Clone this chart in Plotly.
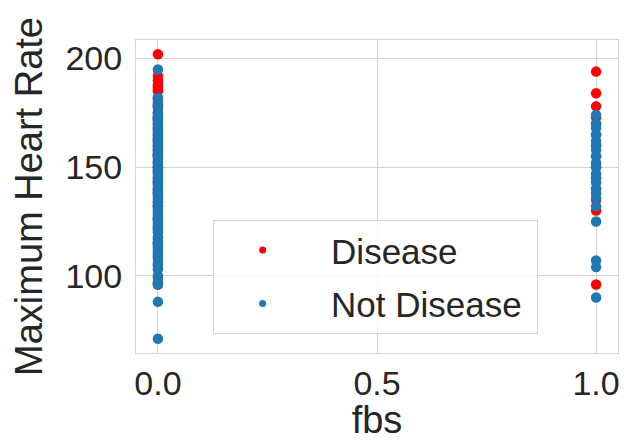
import plotly.graph_objects as go

# ---- data ----
fbs_values = [0, 1]
disease_fbs0 = [202, 192, 190, 188, 187, 186, 185, 182, 179, 178, 175, 173, 172, 170, 168,
                165, 163, 162, 160, 158, 156, 155, 152, 150, 148, 145, 143, 140, 138, 134,
                132, 126, 122, 115, 105, 96]
disease_fbs1 = [194, 184, 178, 173, 170, 165, 160, 155, 150, 145, 140, 135, 130, 96]
not_disease_fbs0 = [195, 182, 181, 180, 178, 177, 175, 174, 173, 172, 171, 170, 169, 168, 167,
                    166, 165, 164, 163, 162, 161, 160, 159, 158, 157, 156, 155, 154, 153, 152,
                    151, 150, 149, 148, 147, 146, 145, 144, 143, 142, 141, 140, 139, 138, 137,
                    136, 135, 134, 133, 132, 131, 130, 129, 128, 127, 126, 125, 124, 123, 122,
                    121, 120, 118, 117, 116, 115, 114, 113, 112, 111, 110, 109, 108, 106, 105,
                    103, 100, 99, 97, 96, 88, 71]
not_disease_fbs1 = [174, 170, 168, 165, 162, 160, 158, 155, 152, 150, 147, 145, 143, 140, 138,
                    136, 132, 125, 107, 104, 90]
series_names = ["Disease", "Not Disease"]
x_ticks = [0.0, 0.5, 1.0]
x_tick_text = ["0.0", "0.5", "1.0"]
y_ticks = [100, 150, 200]
x_title = "fbs"
y_title = "Maximum Heart Rate"

RED = "#ff0000"
BLUE = "#1f77b4"
GRID = "#d4d4d4"
TEXT = "#262626"
FONT = "Liberation Sans, Arial, sans-serif"
PAD = "\u00a0\u00a0"

dis_x = [fbs_values[0]] * len(disease_fbs0) + [fbs_values[1]] * len(disease_fbs1)
dis_y = disease_fbs0 + disease_fbs1
nd_x = [fbs_values[0]] * len(not_disease_fbs0) + [fbs_values[1]] * len(not_disease_fbs1)
nd_y = not_disease_fbs0 + not_disease_fbs1

fig = go.Figure()
fig.add_trace(go.Scatter(x=dis_x, y=dis_y, mode="markers", name=series_names[0],
                         marker=dict(color=RED, size=10.5, line=dict(width=0)),
                         showlegend=False))
fig.add_trace(go.Scatter(x=nd_x, y=nd_y, mode="markers", name=series_names[1],
                         marker=dict(color=BLUE, size=10.5, line=dict(width=0)),
                         showlegend=False))
# legend entries (smaller markers, as in the reference)
fig.add_trace(go.Scatter(x=[None], y=[None], mode="markers", name=PAD + series_names[0],
                         marker=dict(color=RED, size=7), legendgroup="a"))
fig.add_trace(go.Scatter(x=[None], y=[None], mode="markers",
                         name=PAD + series_names[1] + "\u00a0",
                         marker=dict(color=BLUE, size=7), legendgroup="b"))

axis_common = dict(showgrid=True, gridcolor=GRID, gridwidth=1, zeroline=False,
                   showline=True, mirror=True, linecolor=GRID, linewidth=1,
                   ticks="outside", tickcolor="rgba(0,0,0,0)",
                   tickfont=dict(size=34, color=TEXT, family=FONT),
                   title_font=dict(size=38, color=TEXT, family=FONT))

fig.update_xaxes(range=[-0.05, 1.05], tickvals=x_ticks, ticktext=x_tick_text,
                 ticklen=0, title_text=x_title, title_standoff=8, **axis_common)
fig.update_yaxes(range=[64.45, 208.55], tickvals=y_ticks, ticklen=6,
                 title_text=y_title, title_standoff=11, **axis_common)

fig.update_layout(
    width=624, height=441,
    margin=dict(l=136, r=4, t=40, b=88),
    plot_bgcolor="white", paper_bgcolor="white",
    font=dict(family=FONT, color=TEXT),
    legend=dict(x=0.159, y=0.426, xanchor="left", yanchor="top",
                bgcolor="rgba(255,255,255,0.8)", bordercolor=GRID, borderwidth=1,
                font=dict(size=35, color=TEXT, family=FONT),
                tracegroupgap=5, itemwidth=88),
)

fig.write_html("out.html")
